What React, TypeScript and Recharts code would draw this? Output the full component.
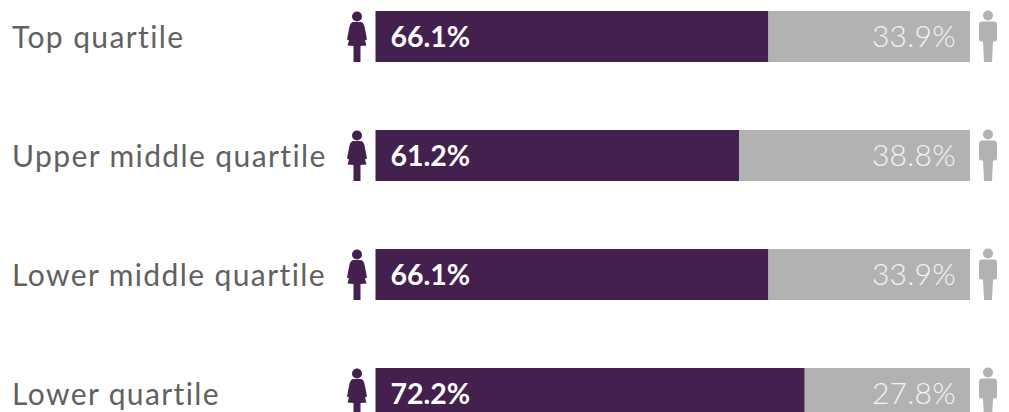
import React from 'react';
import { BarChart, Bar, XAxis, YAxis, LabelList } from 'recharts';

const quartiles = ['Top quartile', 'Upper middle quartile', 'Lower middle quartile', 'Lower quartile'];
const womenShare = [66.1, 61.2, 66.1, 72.2];
const menShare = [33.9, 38.8, 33.9, 27.8];

const rows = quartiles.map((name, i) => ({ name, women: womenShare[i], men: menShare[i] }));

const PURPLE = '#44204f';
const GREY = '#b2b2b2';
const FONT = 'Lato, sans-serif';

const WomanIcon = ({ cx, cy, fill }: any) => (
  <g transform={`translate(${cx},${cy})`} fill={fill}>
    <circle cx={0} cy={-20} r={5} />
    <path d="M-4,-14.5 L4,-14.5 Q6.5,-14 7.5,-10 L10,3 L8,4 L9.5,9 L3.5,9.5 L3.5,25.5 L-3.5,25.5 L-3.5,9.5 L-9.5,9 L-8,4 L-10,3 L-7.5,-10 Q-6.5,-14 -4,-14.5 Z" />
  </g>
);

const ManIcon = ({ cx, cy, fill }: any) => (
  <g transform={`translate(${cx},${cy})`} fill={fill}>
    <circle cx={0} cy={-21} r={5} />
    <path d="M-6,-15 L6,-15 Q9,-15 9,-11 L9,3 Q9,5 6.5,5 L5,5 L4,25.5 L-4,25.5 L-5,5 L-6.5,5 Q-9,5 -9,3 L-9,-11 Q-9,-15 -6,-15 Z" />
  </g>
);

// Row name on the left, with the woman figure just before the bar
const QuartileTick = ({ y, payload }: any) => (
  <g>
    <text x={12} y={y + 11} fontFamily={FONT} fontSize={30} letterSpacing={1.4} fill="#616161">
      {payload.value}
    </text>
    <WomanIcon cx={357} cy={y} fill={PURPLE} />
  </g>
);

const WomenLabel = ({ x, y, height, value }: any) => (
  <text x={x + 15} y={y + height / 2 + 10.5} fontFamily={FONT} fontSize={28.5} fontWeight={700} fill="#ffffff">
    {value}%
  </text>
);

const MenLabel = ({ x, y, width, height, value }: any) => (
  <g>
    <text
      x={x + width - 14}
      y={y + height / 2 + 10.5}
      textAnchor="end"
      fontFamily={FONT}
      fontSize={30}
      fontWeight={300}
      letterSpacing={0.3}
      fill="#f4f4f4"
    >
      {value}%
    </text>
    <ManIcon cx={x + width + 18} cy={y + height / 2} fill={GREY} />
  </g>
);

export default function App() {
  return (
    <div style={{ position: 'absolute', left: 0, top: 0, width: 1009, height: 412, overflow: 'hidden', background: '#fff' }}>
      <div style={{ position: 'absolute', left: 0, top: -23 }}>
        <BarChart
          layout="vertical"
          width={1009}
          height={476}
          data={rows}
          barSize={51}
          margin={{ top: 0, right: 39, bottom: 0, left: 0 }}
        >
          <XAxis type="number" domain={[0, 100]} hide />
          <YAxis
            type="category"
            dataKey="name"
            width={375.5}
            axisLine={false}
            tickLine={false}
            interval={0}
            tick={<QuartileTick />}
          />
          <Bar dataKey="women" stackId="share" fill={PURPLE} isAnimationActive={false}>
            <LabelList dataKey="women" content={<WomenLabel />} />
          </Bar>
          <Bar dataKey="men" stackId="share" fill={GREY} isAnimationActive={false}>
            <LabelList dataKey="men" content={<MenLabel />} />
          </Bar>
        </BarChart>
      </div>
    </div>
  );
}
